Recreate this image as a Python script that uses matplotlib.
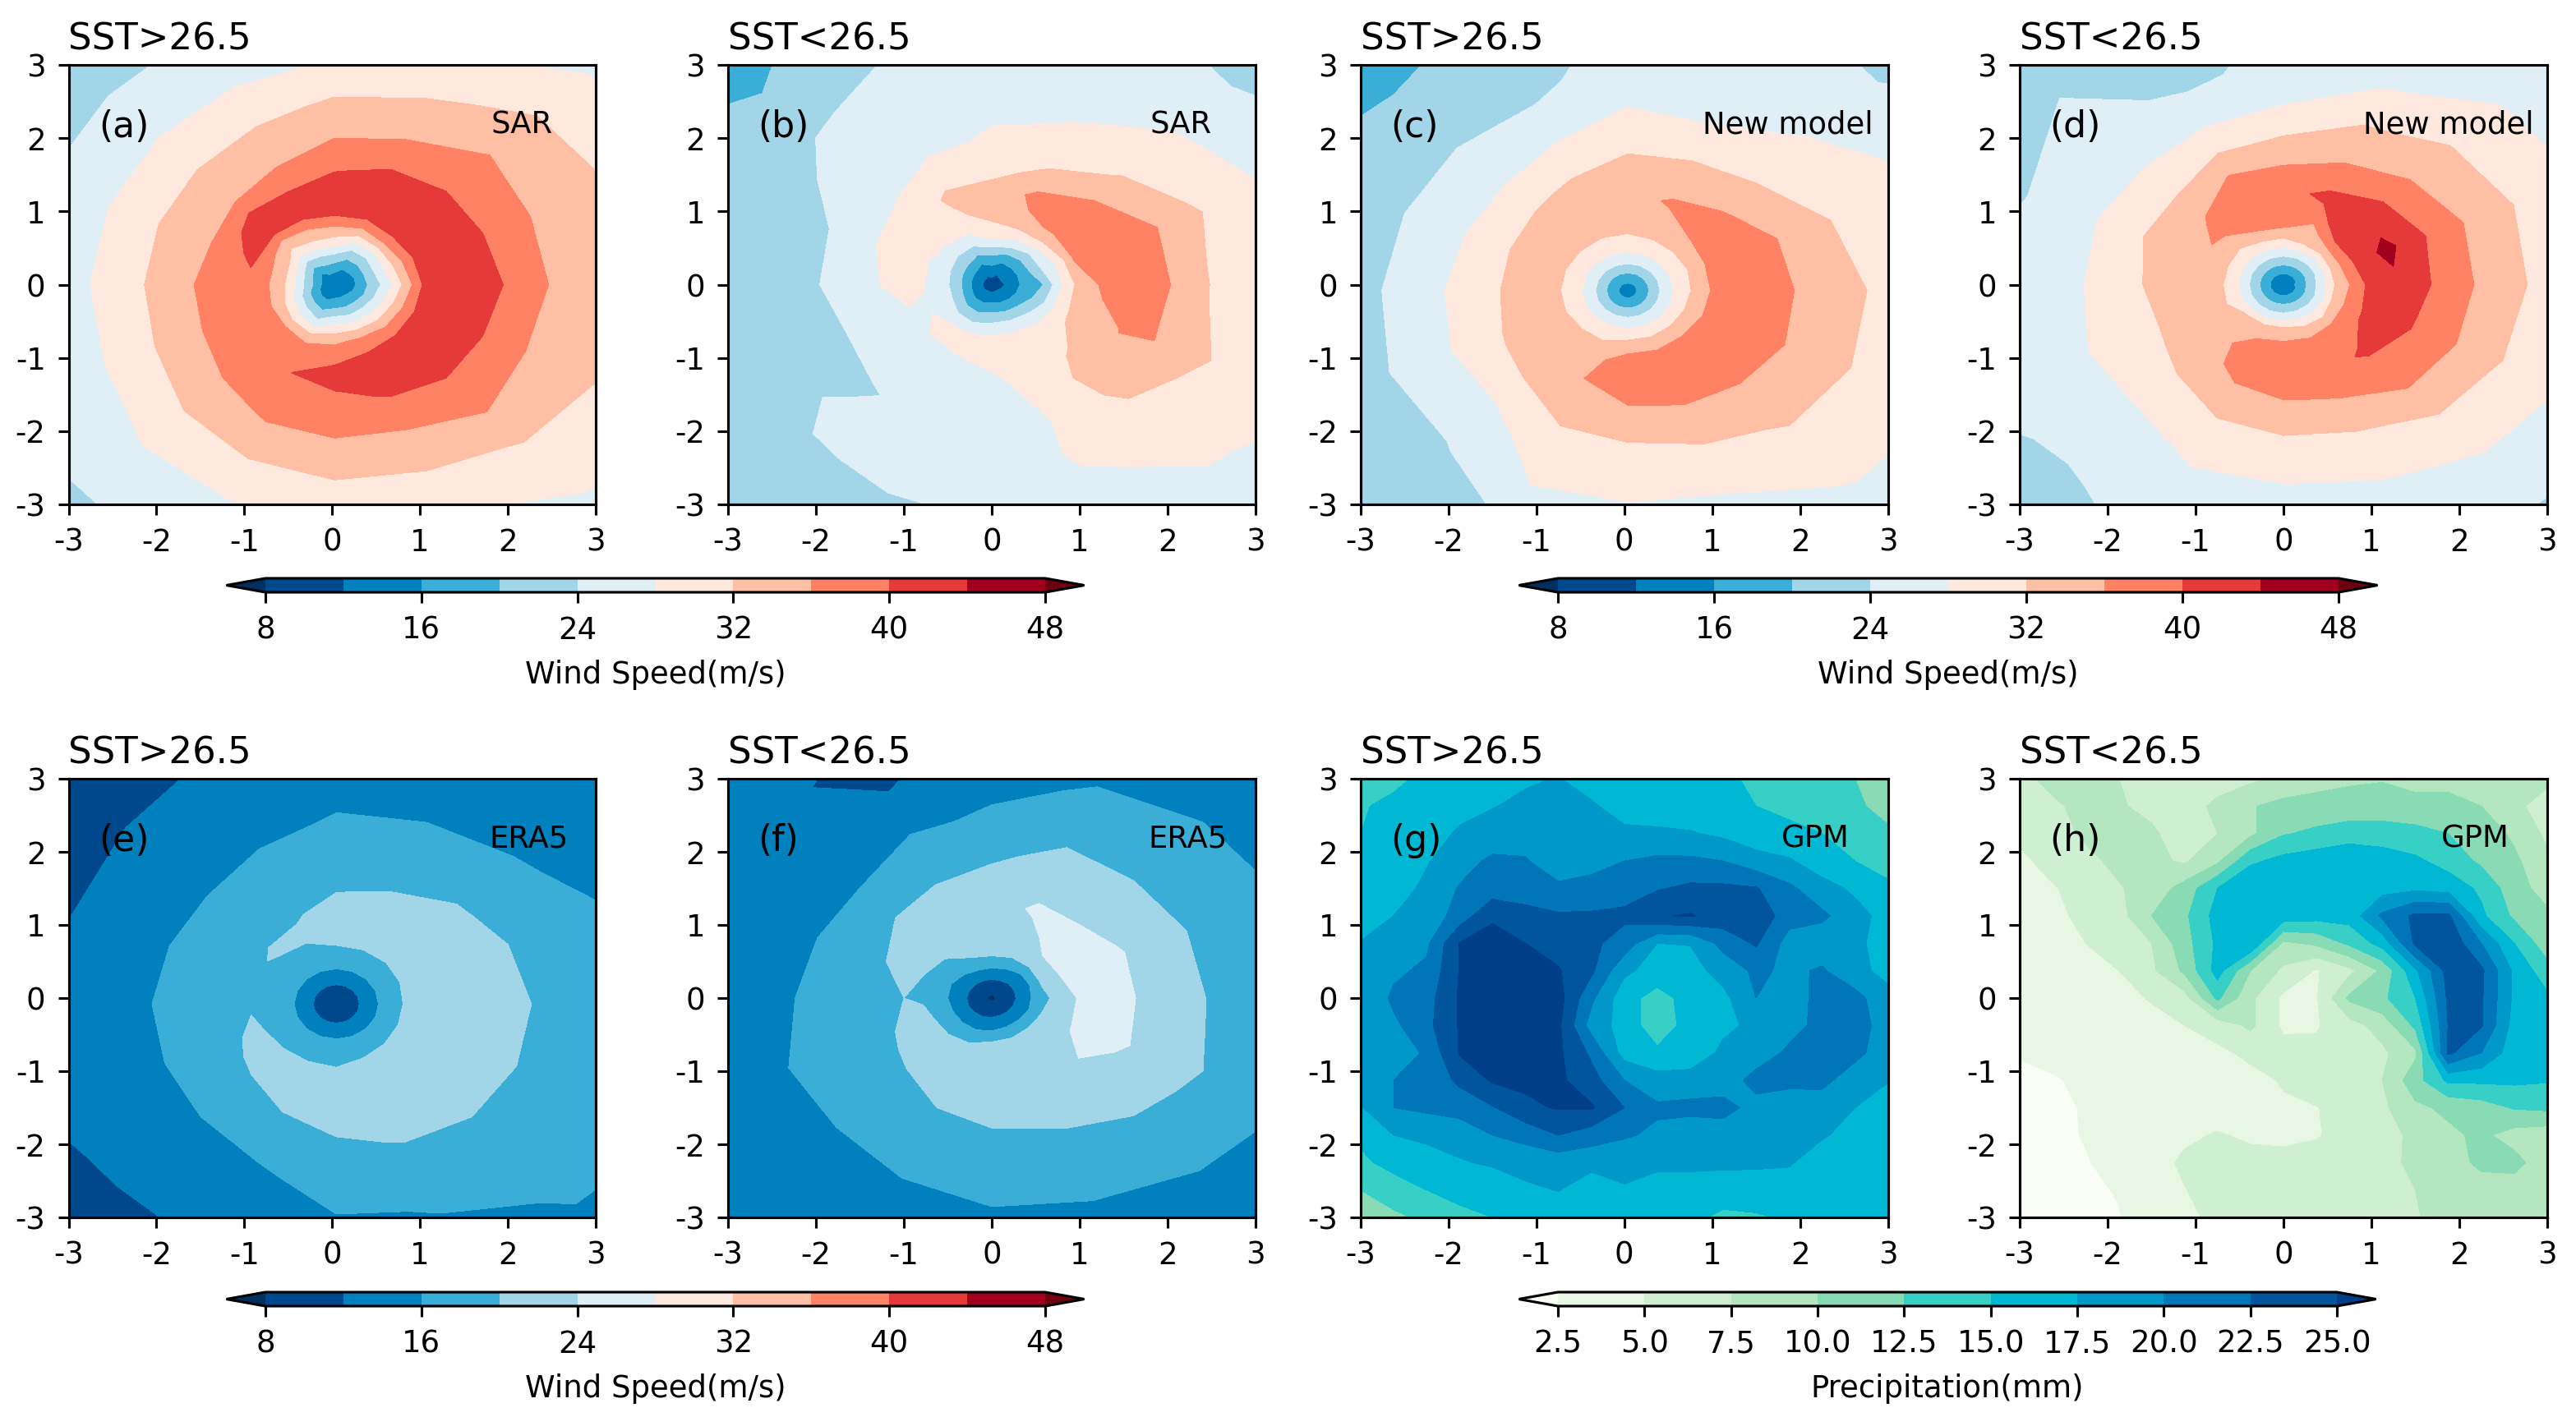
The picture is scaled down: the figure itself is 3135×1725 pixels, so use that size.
import numpy as np
import matplotlib
matplotlib.use("Agg")
import matplotlib.pyplot as plt
from matplotlib.colors import ListedColormap

# wind speed (m/s): rows = azimuth E, ENE, NE ... counter-clockwise, columns = radius (degrees)
radii = [0.15, 0.3, 0.45, 0.6, 0.8, 1.0, 1.3, 1.6, 2.0, 2.5, 3.0, 3.6, 4.3]

sar_warm_centre = 12.5
sar_warm = [
 [13,18,22,26,33,40,42,42,39.5,35.5,33,31,30],
 [13,18,23,28,35,41,43,42,38.5,35.5,33.5,31.5,30],
 [14,18,22,27,36,42,43,42,38,36,33.5,30,27],
 [14,18,22,27,35,41,43,41,37,33.5,30.5,27,25],
 [15.5,20,25,30.5,36,41.5,42,39.5,36,32.5,28.5,26,25],
 [16,20.5,25,31,35.5,41,41,37,34,31,27.5,24.5,23],
 [14,19,24,30,34,41,41.5,36,33.5,30,27,24.2,21],
 [15.5,21,27,33,37,41,38.5,35,33,30,26.5,24,22],
 [16,22,28,33,37,38.5,37.5,36,33,30,26.5,25,24],
 [15,20,26,31.5,36.5,38,37.5,36.2,33.5,30,27,25,24],
 [14,19,24,29,36,37.5,38,37,35,31.5,28.5,25.5,23],
 [14,18,22,27,35,38,40,37.5,36.2,32.5,29,25.5,24.5],
 [15,19,24.5,30,35.5,39.5,41,39,36.7,33,30,26,24.5],
 [15,19,24,29.5,36.5,40,42,40.5,37,33.5,30.5,27,25],
 [15,19,24,29,35.5,40.5,43,42,38,35.8,32.2,29.5,27],
 [14,18,23,28,35,40.5,43,42,38.5,35,33,31,29],
]

sar_cool_centre = 10
sar_cool = [
 [12,15.7,18,20.2,28,33.5,37,38.5,36.3,31.8,30,29,28.5],
 [12.5,15.5,19.5,24,28.5,36.5,37.5,37.5,36.3,32.5,29.8,27.3,26],
 [12.5,15.5,19.5,24,31.5,36.3,37.5,36.3,32.5,30,27.8,25,22],
 [12,15.5,20,26,31.7,35.5,37,32.8,30,27.5,26,25,24],
 [13,17,21.3,27.5,31.5,33,32.8,31,28.5,27,26,25.5,25],
 [12.5,16,20.5,25,29,31.5,32.6,30.5,27,26,25,23,22],
 [13,17.5,22,25,29,30,29.5,27.7,26.5,25,23.5,20.3,18],
 [13,18,23,25.5,28.3,30,29,26.5,24,22.5,22.5,22,21.5],
 [13,18.5,23.5,25.5,28.5,30,27.8,26.5,23.7,22.5,22,21.5,21],
 [13,18,23.5,25.5,27.2,27.5,27,24.8,23,22.5,22,21.5,21],
 [13,17,21.5,25.5,30,27.8,26.5,25,23.7,24.6,23.8,22,21.5],
 [13,17,21,25,30,28.2,26.5,25.5,25,25,24.3,22,21.5],
 [13,17.5,22,26,30,29,27.5,26.5,25.7,25,24.8,23,22.5],
 [13,17,21.5,26,30,30,29.5,29,28.3,28.5,27,25.5,25],
 [13,16.5,21,25,29,30.5,32.5,34,33,30.5,29.3,27.7,26],
 [12.5,16,19,22.5,29,33,34.5,36.2,36,33,30.5,29,28],
]

new_warm_centre = 14
new_warm = [
 [17,22,26.5,29.7,33.5,37,38,38,35.3,32.8,31,29.5,28],
 [17,22,26.5,29.7,33,37,38,37.5,35,32,30.5,29,28],
 [17,22,26.5,29.7,33,36,37.5,35.5,32.3,30.2,27.8,25.5,23],
 [17,22,26.5,29.7,32.7,34.5,36.5,33.5,31.6,27.7,26,25,24.5],
 [17,22,26.5,29.7,32.3,33.5,34.5,33,31.5,28,26,25,24.5],
 [17,22,26.5,29.7,32.3,33.5,34,32.4,29.5,25,23,21.5,20],
 [17,22,26.5,29.7,32.5,33.5,33,31.5,28,25,23,20.5,18.5],
 [17,22,26.5,29.7,32.5,33.5,33,31,28,25,23,21,20],
 [17,22,26.5,29.7,32.5,33.5,33,31,28.5,25.5,23,22,21],
 [17,22,26.5,29.7,32.5,33.5,33.2,31.7,29,26,23.7,22,21],
 [17,22,26.5,29.7,33,34,35,32.8,28.8,25.8,23.6,21.5,20],
 [17,22,26.5,29.7,33,35.5,36,34,32,29.5,27.5,24,22],
 [17,22,26.5,29.7,35.5,37,37.5,35.8,32.4,29.7,27.5,26,25],
 [17,22,26.5,29.7,35,37.5,38,36.7,33.5,30.7,28,26.5,25.5],
 [17,22,26.5,29.7,35,37.5,38,37,35,32.4,30.5,28.3,26],
 [17,22,26.5,29.7,34.5,37,38,37.5,35.7,33,31,29,27],
]

new_cool_centre = 13
new_cool = [
 [16.5,21.5,27,32.5,37,41.5,43,40.7,37.1,33.8,30.5,29,28],
 [16,21,26,33,39,43,45,41.5,37.5,34,31,28.5,27],
 [16,21,26,32,39.5,43,42,40,36.2,33,30.3,27.4,25],
 [16,21,26,32,34,38,41,37.5,34.5,31,27.3,25.5,24.5],
 [16,21,26,31,36.5,38,38.5,36.3,32.3,27.6,25.5,24.5,23],
 [16,21,26,31,36.2,37.5,38,36.2,31.3,26.3,23,21.5,20.5],
 [16,21,26,30.5,33.5,37,35.8,33,29.5,26.5,25.5,24,22],
 [16,21,26,31,33.5,35,35,33,29.7,26.8,24.5,22.5,21],
 [16,21,26,31,33.3,34.5,34,32,29.5,26.7,25,24.5,24],
 [16,21,26,30.5,33.5,34.5,33.5,31.5,30,27.5,25.5,24.5,24],
 [16,21,26,32.5,34.5,35,34,32.8,30,27.2,25,23.7,22],
 [16,21,26,32.5,36,37.5,37.5,34.5,31.8,29,26.5,25,24],
 [16,21,26,32.5,36.5,38,38,35.8,32.4,29,26.7,25,24.5],
 [16,21,26,31.5,36.2,38,38.5,36.7,33,30,27.4,26,25],
 [16,21,26,31,37,39,40.5,38.5,36,32,29.3,26,23.5],
 [16,21,26,32.5,37.5,40.5,42,39.8,37,33,30.5,27.5,26],
]

era_warm_centre = 10
era_warm = [
 [10.5,12.5,15.5,18,20.5,21,21.5,21.5,20.8,19,17.5,16.2,15.5],
 [10.5,12.5,15.5,18,20.2,21,21.5,21.3,20.4,18.7,17,15.5,14.5],
 [10.5,12.5,15.5,18,20,20.8,21.5,21,19.8,17.2,15.5,14,13],
 [10.5,12.5,15.5,18,20,21,21,20.2,18.8,16.6,15,14,13.5],
 [10.5,12.5,15.5,18,20,20.8,20.6,19.8,18,16.3,15,14,13.5],
 [10.5,12.5,15.5,18,19.7,20.3,19.8,18.8,17,15.3,14,12.3,11],
 [10.5,12.5,15.5,18,19.5,20.3,19.3,18,16.3,14.5,13,11.5,10.5],
 [10.5,12.5,15.5,18,19.7,19.5,18.7,17.7,16.2,14.5,12.7,11,10],
 [10.5,12.5,15.5,18,19.7,19.8,19,17.8,16.3,14.8,14,13.5,13],
 [10.5,12.5,15.5,18,19.7,20.3,19.7,18,16.3,15,14,12.3,11],
 [10.5,12.5,15.5,18,19.8,20.5,20.3,19,16.7,14.8,13.5,11.8,10.5],
 [10.5,12.5,15.5,18,19.8,20.6,20.8,20,17.5,15.3,14,12.3,11],
 [10.5,12.5,15.5,18,19.7,20.6,21,20.6,19.5,17.5,15.5,14.5,14],
 [10.5,12.5,15.5,18,20,20.8,21.2,21,20.2,18,16.2,15,14.5],
 [10.5,12.5,15.5,18,20.3,20.9,21.4,21.3,20.7,18.8,17.5,16.3,15.5],
 [10.5,12.5,15.5,18,20.5,21,21.5,21.5,20.8,19,17.8,16.8,16],
]

era_cool_centre = 7.5
era_cool = [
 [9.5,12.5,16,19.3,21.5,24.5,25,24.2,22,19.7,18,16.5,15.5],
 [9.5,12.5,15.5,20.3,23.8,25,25,24.2,22,19.5,17.5,16,15],
 [9.5,12.5,15.5,20,23.9,25,24.5,23.2,21,19.2,17,15.5,14.5],
 [9.5,13,16.5,20,22,23,24.5,23,21,18.8,16.4,14.5,13.5],
 [9.5,13,17,20.5,22,22.7,22.3,21,19.3,16.4,15,14,13.5],
 [9.5,13,17,20,21.5,22,21.5,20.3,18.7,15.5,12.2,10,13],
 [9.5,12.8,16,18.8,20.3,21.5,21,19.8,16.5,14.5,14,13.5,13],
 [9.3,12.5,15,18,19.8,21,20,18.8,16.5,14.8,14,13.5,13],
 [9.3,12.3,15,18,19.7,20,19.5,18.6,16.9,15,14,13.5,13],
 [9.3,12.3,15.3,19,20.7,20.5,19.7,19,17.5,16,14.7,14,13.5],
 [9.5,12.5,15.5,19,21,21,20.3,19,17.5,16,14.7,14,13.5],
 [9.5,12.5,15.5,19.5,21,21.5,21,20.1,18.5,16.5,15,14,13.5],
 [9.5,12.8,16,20,21,21.5,21.5,20.8,19,17.2,15.5,14.5,14],
 [9.5,13,16.5,20.2,21.5,22,22,21,19.8,17.8,16,15,14.5],
 [9.5,13,16.5,20.5,22,23,23.7,22.5,21,19.2,17.3,15,14],
 [9.5,12.8,16,20,22,24.2,25,24.5,22.5,20.5,18,16.5,15.5],
]

# precipitation (mm): rows y = 3 ... -3, columns x = -3 ... 3
gpm_warm = [
 [12.5,14.5,15.5,16,16.5,17.2,17.6,16.5,16,16,16,15.5,14.5,14,13.5,12.5,10.5],
 [14.8,15.5,16,16.8,17.4,18,18.2,17.8,16.5,16,16,15.5,15,14.5,14,13,11.5],
 [15,15.8,16.5,17.8,18.5,19,18.8,18.5,18,18,17.7,17,16,15.5,15,14.5,13],
 [15.3,16,17.3,19,20.5,20.2,18.5,19,20,20.5,20.5,20,18.5,17.8,16,15,14],
 [15.8,16.5,18,20.2,21,21,20.5,21,21.5,22.3,23,23,22.7,20.5,18.5,17,15.5],
 [16.5,17.5,18.5,21,24.8,23.5,22.8,22.8,23,24.8,25.2,24,24.5,21,20.5,18.5,16.5],
 [17.6,18,19.5,25.1,25.5,25,24,23,21.5,17.5,17.6,20.8,22.8,19,18.5,18,16.5],
 [17.8,19.5,20.5,25.1,25.5,25.8,25.2,23,18,16.5,16.5,18.5,20.5,19.5,20.3,18,17],
 [17.6,20.5,21.5,25.3,25.5,26,26,20.5,16,14,16,16.8,20,18.5,21,21,18],
 [17.7,19.5,21.8,25.2,26,26,25.5,19,16.5,13.5,16,17,18,19,20.8,21,19],
 [17.5,18,20.5,25.2,25.3,26,25.5,22,16.5,15.5,16,18,18.5,20.5,21,21,18],
 [17.6,20,20.8,23,25.3,25.5,25.5,23.5,20,18.5,18.5,18.5,21,20.7,21,18,17.6],
 [17.3,20,20.5,21,22.3,24.5,25.2,25.3,22.5,20.4,20.7,21,19,18.5,18,17.5,16.5],
 [15.5,17.5,18,18.5,20,20.8,22.5,21.2,20.3,19.5,18.5,18.5,18.5,18.3,17.8,16.5,15.5],
 [14.5,15.8,16.5,17.3,17.8,18.5,18.5,18.3,18.2,18,18,18,18,17.8,16,15.8,15.5],
 [12.5,13.8,15,15.6,16,17,17.6,16,17.3,16.5,16.5,16.2,16,16,15.8,15.5,15.5],
 [9.5,12,13,14.5,15,15.5,15.5,15.5,15.5,15.5,15.5,14.5,14.8,15.2,15.5,15.5,15.5],
]

gpm_cool = [
 [7,8,8.5,7.5,6.5,6.5,6.5,7,8,9,9.5,9.8,9,9,8.5,8,8],
 [6,7.2,8,7.7,7,6.5,8,9.8,10.8,11,11.3,11.3,11,11,10,8,6.5],
 [5.5,6.8,7.8,8.5,7.8,6.5,7.5,9.5,12.3,13,13.5,13.5,13.2,12.5,11.5,9.5,7],
 [4.5,5.8,7,8,8,7.2,9.5,14.5,15.8,16.5,17.5,16.5,15.5,14,12,10.5,8],
 [3.5,4.8,6,7.3,8.5,11,15,17.5,17.5,16.5,15.2,16.5,17,16.5,14.5,11,9],
 [3.3,4.5,5.5,6.5,10,12,16,17.5,16.5,16,16,20.5,23,23,15.5,12,10.5],
 [2.8,4,5,5.5,7.5,11.5,15.5,17.5,9.5,10.5,13,16,23,24.5,20,15,11],
 [2.5,3.5,4.5,5,7,10.5,16,10,7,4.8,6.8,10.5,17,23.5,23,17,13.5],
 [3,3.2,3.5,4.2,5.2,6.5,13,8,4.5,4.8,10.5,12,15,23,22.8,17,15.5],
 [2.7,2.9,3.1,3.5,4.2,5,6,8,4.5,4.8,6.5,8.5,13,22.6,22.7,16.5,16],
 [2.6,2.8,3,3.2,3.5,4,4.5,5.5,6,5.5,5.5,7,9.5,23,20,16,16],
 [2.2,2.4,2.7,3,3.2,3.5,3.8,4.3,5.2,6.5,7,7.5,11.5,15.5,15.5,15.5,15.2],
 [2,2.2,2.6,3,3.2,3.5,3.8,4,4.7,4.9,6,7,9.5,10.5,11.3,12.7,13],
 [2,2.1,2.6,3,3.7,4.5,5.2,4.6,4.4,4.8,6,7,7.8,9.5,10.5,9,8.5],
 [2.1,2.2,2.4,3,3.8,5.5,6,5.8,5.8,6,6.3,6.8,8,9,10.5,10.8,8.5],
 [2.2,2.2,2.2,2.6,4,4.9,6,6.5,7.3,6.5,6.5,6.8,7.5,8.8,9,8.8,8.5],
 [2.3,2.2,2.3,2.4,3.5,4.5,5.5,5.8,6,6,6.3,7,7.4,8,8.5,8.5,7.3],
]

panel_letters = ['(a)', '(b)', '(c)', '(d)', '(e)', '(f)', '(g)', '(h)']
panel_titles = ['SST>26.5', 'SST<26.5'] * 4
panel_sources = ['SAR', 'SAR', 'New model', 'New model', 'ERA5', 'ERA5', 'GPM', 'GPM']
wind_levels = [8, 12, 16, 20, 24, 28, 32, 36, 40, 44, 48]
wind_ticks = [8, 16, 24, 32, 40, 48]
rain_levels = [2.5, 5, 7.5, 10, 12.5, 15, 17.5, 20, 22.5, 25]
wind_colors = ['#00305F', '#00488C', '#0080BC', '#3AAED6', '#A3D5E8', '#E0EEF6',
               '#FFE8DE', '#FFBFA5', '#FF8265', '#E63A3A', '#A0001E', '#6E0010']
rain_colors = ['#FAFDF5', '#E8F6E4', '#CFEFD3', '#B4E6C0', '#88DBB5', '#38CFC6',
               '#00B8D4', '#0098C8', '#0076B8', '#00559C', '#003F88']

W, H = 3135, 1725
plt.rcParams.update({'font.family': 'DejaVu Sans', 'font.size': 8.9,
                     'axes.linewidth': 0.75, 'xtick.major.width': 0.75,
                     'ytick.major.width': 0.75, 'xtick.major.size': 3.2,
                     'ytick.major.size': 3.2})
fig = plt.figure(figsize=(W / 300, H / 300), dpi=300)


def box(x0, x1, ytop, ybot):
    return [x0 / W, 1 - ybot / H, (x1 - x0) / W, (ybot - ytop) / H]


def cmap_from(colors):
    cm = ListedColormap(colors[1:-1])
    cm.set_under(colors[0])
    cm.set_over(colors[-1])
    return cm


def polar_field(table, centre, origin):
    az = np.deg2rad(np.arange(17) * 22.5)
    r = np.array([0.0] + radii)
    rows = np.array(table + [table[0]], dtype=float)
    Z = np.column_stack([np.full(17, centre), rows])
    X = origin[0] + np.outer(np.cos(az), r)
    Y = origin[1] + np.outer(np.sin(az), r)
    return X, Y, Z


def cart_field(table):
    axis = np.arange(17) * 0.375 - 3
    X, Y = np.meshgrid(axis, -axis)
    return X, Y, np.array(table, dtype=float)


xpos = [(83.5, 724.5), (886, 1528), (1656, 2297.5), (2458, 3100)]
ypos = [(79, 614), (948, 1482)]
fields = [
    polar_field(sar_warm, sar_warm_centre, (0.03, 0)),
    polar_field(sar_cool, sar_cool_centre, (0, 0)),
    polar_field(new_warm, new_warm_centre, (0.04, -0.08)),
    polar_field(new_cool, new_cool_centre, (0, 0)),
    polar_field(era_warm, era_warm_centre, (0.05, -0.08)),
    polar_field(era_cool, era_cool_centre, (0, 0)),
    cart_field(gpm_warm),
    cart_field(gpm_cool),
]
right_x = [2.51, 2.5, 2.83, 2.85, 2.69, 2.68, 2.56, 2.57]
wind_cm = cmap_from(wind_colors)
rain_cm = cmap_from(rain_colors)
sets = {}
for i, (X, Y, Z) in enumerate(fields):
    row = i // 4
    ax = fig.add_axes(box(*xpos[i % 4], *ypos[row]))
    if i < 6:
        cs = ax.contourf(X, Y, Z, levels=wind_levels, cmap=wind_cm, extend='both')
    else:
        cs = ax.contourf(X, Y, Z, levels=rain_levels, cmap=rain_cm, extend='both')
    sets[i] = cs
    ax.set_xlim(-3, 3)
    ax.set_ylim(-3, 3)
    ax.set_xticks(range(-3, 4))
    ax.set_yticks(range(-3, 4))
    ax.set_xticklabels([str(v) for v in range(-3, 4)])
    ax.set_yticklabels([str(v) for v in range(-3, 4)])
    ax.set_title(panel_titles[i], loc='left', fontsize=10.8, pad=4.5)
    ax.text(-2.66, 2.15, panel_letters[i], fontsize=10.6, va='center', ha='left')
    ax.text(right_x[i], 2.18, panel_sources[i], fontsize=8.9, va='center', ha='right')

cbars = [(sets[0], 275.5, 1319.5, 704, 721, wind_ticks, 'Wind Speed(m/s)'),
         (sets[2], 1848.5, 2893.5, 704, 721, wind_ticks, 'Wind Speed(m/s)'),
         (sets[4], 275.5, 1319.5, 1573, 1590, wind_ticks, 'Wind Speed(m/s)'),
         (sets[6], 1848.5, 2891.5, 1573, 1590, rain_levels, 'Precipitation(mm)')]
for cs, x0, x1, yt, yb, ticks, label in cbars:
    cax = fig.add_axes(box(x0, x1, yt, yb))
    cb = fig.colorbar(cs, cax=cax, orientation='horizontal', ticks=ticks)
    cb.set_label(label, fontsize=8.9)
    cb.ax.tick_params(labelsize=8.9)

fig.savefig('out.png', dpi=300)
